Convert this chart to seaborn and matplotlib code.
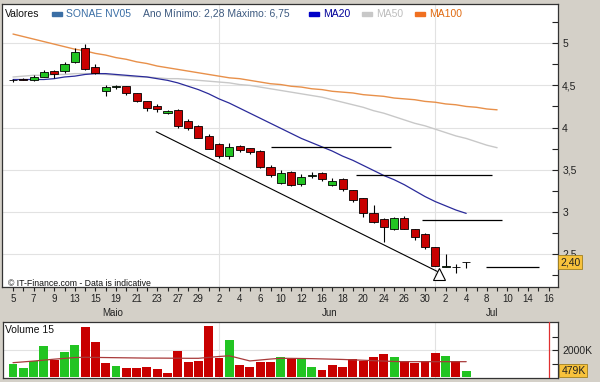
import numpy as np
import pandas as pd
import matplotlib
matplotlib.use("Agg")
import matplotlib.pyplot as plt
import matplotlib.transforms as mtransforms
from matplotlib.patches import Rectangle
import seaborn as sns

# ---------------- data ----------------
tick_labels = ["5", "7", "9", "13", "15", "19", "21", "23", "27", "29",
               "2", "4", "6", "10", "12", "16", "18", "20", "24", "26", "30",
               "2", "4", "8", "10", "14", "16"]
months = ["Maio", "Jun", "Jul"]
month_pos = [9.7, 30.7, 46.5]
month_start = [20, 41]

open_ = [4.56, 4.58, 4.56, 4.60, 4.67, 4.67, 4.78, 4.94, 4.72, 4.43, 4.48, 4.49,
         4.41, 4.31, 4.26, 4.17, 4.21, 4.08, 4.02, 3.90, 3.80, 3.66, 3.78, 3.76,
         3.72, 3.53, 3.34, 3.47, 3.33, 3.42, 3.46, 3.32, 3.39, 3.26, 3.16, 2.98,
         2.91, 2.79, 2.93, 2.79, 2.74, 2.58, 2.34, 2.34, 2.40]
close = [4.56, 4.57, 4.60, 4.66, 4.64, 4.75, 4.90, 4.69, 4.65, 4.48, 4.49, 4.41,
         4.32, 4.23, 4.22, 4.20, 4.02, 3.99, 3.88, 3.75, 3.66, 3.77, 3.73, 3.71,
         3.53, 3.43, 3.46, 3.32, 3.41, 3.44, 3.39, 3.37, 3.27, 3.14, 2.98, 2.88,
         2.82, 2.93, 2.79, 2.70, 2.58, 2.36, 2.36, 2.34, 2.40]
high = [4.58, 4.59, 4.62, 4.68, 4.68, 4.78, 4.94, 4.99, 4.76, 4.50, 4.51, 4.49,
        4.41, 4.31, 4.28, 4.21, 4.22, 4.10, 4.03, 3.92, 3.81, 3.82, 3.79, 3.76,
        3.73, 3.55, 3.49, 3.48, 3.45, 3.47, 3.47, 3.40, 3.40, 3.26, 3.16, 3.08,
        2.93, 2.94, 2.95, 2.79, 2.75, 2.58, 2.50, 2.38, 2.40]
low = [4.54, 4.56, 4.55, 4.60, 4.59, 4.65, 4.77, 4.68, 4.63, 4.37, 4.46, 4.39,
       4.30, 4.20, 4.18, 4.16, 4.00, 3.97, 3.87, 3.74, 3.64, 3.63, 3.71, 3.69,
       3.52, 3.41, 3.33, 3.31, 3.30, 3.40, 3.36, 3.31, 3.25, 3.12, 2.94, 2.86,
       2.64, 2.78, 2.79, 2.66, 2.56, 2.35, 2.34, 2.27, 2.33]

ma20 = [4.57, 4.57, 4.57, 4.57, 4.58, 4.60, 4.61, 4.63, 4.64, 4.64, 4.63, 4.62,
        4.61, 4.60, 4.58, 4.56, 4.53, 4.49, 4.45, 4.40, 4.34, 4.29, 4.23, 4.17,
        4.11, 4.05, 3.99, 3.93, 3.87, 3.82, 3.77, 3.72, 3.66, 3.61, 3.55, 3.49,
        3.43, 3.38, 3.32, 3.25, 3.18, 3.12, 3.07, 3.02, 2.98]
ma50 = [4.60, 4.61, 4.62, 4.62, 4.63, 4.63, 4.64, 4.64, 4.64, 4.63, 4.62, 4.61,
        4.60, 4.60, 4.59, 4.58, 4.58, 4.57, 4.56, 4.55, 4.54, 4.53, 4.51, 4.50,
        4.48, 4.46, 4.44, 4.42, 4.40, 4.38, 4.36, 4.33, 4.30, 4.27, 4.24, 4.20,
        4.17, 4.13, 4.09, 4.05, 4.02, 3.98, 3.94, 3.90, 3.87, 3.83, 3.79, 3.76]
ma100 = [5.11, 5.08, 5.05, 5.02, 4.99, 4.96, 4.93, 4.91, 4.88, 4.86, 4.83, 4.81,
         4.78, 4.76, 4.73, 4.71, 4.69, 4.67, 4.65, 4.63, 4.61, 4.59, 4.58, 4.56,
         4.54, 4.52, 4.51, 4.49, 4.48, 4.46, 4.45, 4.43, 4.42, 4.41, 4.39, 4.38,
         4.37, 4.35, 4.34, 4.33, 4.31, 4.30, 4.28, 4.27, 4.25, 4.24, 4.22, 4.21]

volume_k = [963, 689, 1207, 2319, 1259, 1874, 2370, 3726, 2615, 1059, 837, 644,
            644, 719, 570, 319, 1948, 1133, 1185, 3778, 1385, 2741, 889, 763,
            1133, 1133, 1459, 1311, 1385, 763, 519, 889, 763, 1333, 1185, 1504,
            1704, 1459, 1185, 1015, 1185, 1800, 1578, 1185, 479]
vol_ma15_k = [1060, 1120, 1180, 1250, 1320, 1380, 1440, 1460, 1450, 1440, 1430, 1420,
              1410, 1400, 1400, 1395, 1390, 1385, 1385, 1450, 1520, 1570, 1380, 1190,
              1260, 1330, 1385, 1380, 1370, 1360, 1340, 1320, 1300, 1270, 1240, 1210,
              1180, 1150, 1135, 1135, 1135, 1135, 1135, 1135, 1135]

# drawn analysis objects
level_start = [25.0, 33.3, 39.7, 45.9]
level_end = [36.7, 46.5, 47.5, 51.1]
level_price = [3.77, 3.44, 2.90, 2.34]
trend_x = [13.9, 41.2]
trend_y = [3.95, 2.29]
marker_x = [41.4]
marker_y = [2.26]
last_price = 2.40
last_volume_k = 479
today_idx = 52

# ---------------- style ----------------
BG = "#d4d0c8"
GREEN = "#22c422"
RED = "#c80000"
sns.set_style("white")
plt.rcParams["font.family"] = ["Liberation Sans", "DejaVu Sans"]

W, H = 600, 382
fig = plt.figure(figsize=(6, 3.82), dpi=100, facecolor=BG)


def ax_rect(l, t, r, b):
    return [l / W, 1 - b / H, (r - l) / W, (b - t) / H]


X0, DX = 13.0, 10.3      # pixel of first candle, pixels per trading day
ax = fig.add_axes(ax_rect(2, 4, 558, 287))
axv = fig.add_axes(ax_rect(3, 322, 558, 378))

n = len(close)
idx = np.arange(n)
df = pd.DataFrame({"i": idx, "open": open_, "close": close, "high": high,
                   "low": low, "vol": volume_k, "volma": vol_ma15_k})

# ---------------- main price panel ----------------
ax.set_facecolor("white")
for y in np.arange(2.5, 5.01, 0.5):
    ax.axhline(y, color="#e2e2e2", lw=0.8, zorder=0)
for m in month_start:
    ax.axvline(m, color="#e2e2e2", lw=0.8, zorder=0)

sns.lineplot(x=np.arange(len(ma100)), y=ma100, ax=ax, color="#e8904a", lw=1.0, zorder=2)
sns.lineplot(x=np.arange(len(ma50)), y=ma50, ax=ax, color="#c8c8c8", lw=1.0, zorder=2)
sns.lineplot(x=np.arange(len(ma20)), y=ma20, ax=ax, color="#2a2a9a", lw=0.9, zorder=2)

# candles
up = df["close"] >= df["open"]
ax.vlines(df["i"], df["low"], df["high"], color="black", lw=0.8, zorder=3)
body_bot = np.minimum(df["open"], df["close"])
body_h = np.maximum(np.abs(df["close"] - df["open"]), 0.004)
ax.bar(df["i"], body_h, bottom=body_bot, width=0.78,
       color=np.where(up, GREEN, RED), edgecolor="black", lw=0.6, zorder=4)

# analysis lines
ax.hlines(level_price, level_start, level_end, color="black", lw=0.9, zorder=3)
ax.plot(trend_x, trend_y, color="black", lw=0.8, zorder=3)
ax.plot(marker_x, marker_y, marker="^", ms=8, mfc="white", mec="black",
        mew=0.8, ls="none", zorder=5)

ax.set_xlim((2 - X0) / DX, (558 - X0) / DX)
P0, PY = 43.3, 84.2     # pixel of price 5.0, pixels per unit
ax.set_ylim(5 - (287 - P0) / PY, 5 + (P0 - 4) / PY)

ax.yaxis.tick_right()
ax.set_yticks(np.arange(2.5, 5.01, 0.5))
ax.set_yticklabels(["2,5", "3", "3,5", "4", "4,5", "5"])
ax.set_yticks(np.arange(2.25, 5.3, 0.25), minor=True)
ax.tick_params(axis="y", which="both", direction="in", length=4, width=0.8,
               right=True, left=False, labelsize=7.5, pad=3, colors="#222222")
ax.set_xticks(np.arange(0, 53, 2))
ax.set_xticklabels(tick_labels)
ax.set_xticks(np.arange(1, 53, 2), minor=True)
ax.tick_params(axis="x", which="both", direction="out", length=3, width=0.8,
               bottom=True, labelsize=7, pad=2, colors="#222222")
ax.set_xlabel("")
ax.set_ylabel("")
for s in ax.spines.values():
    s.set_color("#333333")
    s.set_linewidth(0.9)

blend = mtransforms.blended_transform_factory(ax.transData, ax.transAxes)
for name, pos in zip(months, month_pos):
    ax.text(pos, -26 / 283, name, transform=blend, ha="center", va="center",
            fontsize=7, color="#222222")

rblend = mtransforms.blended_transform_factory(ax.transAxes, ax.transData)
ax.text(1.004, last_price, "2,40", transform=rblend, ha="left", va="center",
        fontsize=7.5, color="#222222", zorder=10,
        bbox=dict(boxstyle="square,pad=0.18", fc="#f7c23c", ec="#a08020", lw=0.6))

fig.text(8 / W, 1 - 283 / H, "\u00a9 IT-Finance.com - Data is indicative",
         fontsize=6.3, va="center", ha="left", color="#111111")

# legend strip
ly = 1 - 14 / H
fig.text(5 / W, ly, "Valores", fontsize=7.5, va="center", color="#111111")
legend_items = [(52, "SONAE NV05", "#3a6ea5", "#3a6ea5"),
                (309, "MA20", "#0000c8", "#000099"),
                (362, "MA50", "#c8c8c8", "#bdbdbd"),
                (415, "MA100", "#f07020", "#e06a10")]
for px, label, mcol, tcol in legend_items:
    fig.patches.append(Rectangle((px / W, 1 - 15.5 / H), 10 / W, 3.5 / H,
                                 transform=fig.transFigure, color=mcol))
    fig.text((px + 14) / W, ly, label, fontsize=7.5, va="center", color=tcol)
fig.text(143 / W, ly, "Ano M\u00ednimo: 2,28 M\u00e1ximo: 6,75", fontsize=7.5,
         va="center", color="#3d5a80")

# ---------------- volume panel ----------------
axv.set_facecolor("white")
axv.axhline(2000, color="#e2e2e2", lw=0.8, zorder=0)
for m in month_start:
    axv.axvline(m, color="#e2e2e2", lw=0.8, zorder=0)
vol_up = np.r_[True, np.diff(df["close"].values) >= 0]
axv.bar(df["i"], df["vol"], width=0.86, color=np.where(vol_up, GREEN, RED),
        lw=0, zorder=2)
sns.lineplot(data=df, x="i", y="volma", ax=axv, color="#a83a3a", lw=0.9, zorder=3)
axv.axvline(today_idx, color="#e03030", lw=0.9, zorder=3)

axv.set_xlim((3 - X0) / DX, (558 - X0) / DX)
VZ, VK = 377.0, 13.5   # pixel of zero volume, pixels per 1000K
axv.set_ylim(-(378 - VZ) / VK * 1000, (VZ - 322) / VK * 1000)
axv.yaxis.tick_right()
axv.set_yticks([1000, 2000, 3000])
axv.set_yticklabels(["", "2000K", ""])
axv.tick_params(axis="y", which="both", direction="in", length=4, width=0.8,
                right=True, left=False, labelsize=7.5, pad=3, colors="#222222")
axv.set_xticks([])
axv.set_xlabel("")
axv.set_ylabel("")
for s in axv.spines.values():
    s.set_color("#333333")
    s.set_linewidth(0.9)
vblend = mtransforms.blended_transform_factory(axv.transAxes, axv.transData)
axv.text(1.006, last_volume_k, "479K", transform=vblend, ha="left", va="center",
         fontsize=7.5, color="#222222", zorder=10,
         bbox=dict(boxstyle="square,pad=0.18", fc="#f7c23c", ec="#a08020", lw=0.6))
fig.text(5 / W, 1 - 330 / H, "Volume 15", fontsize=7.5, va="center", color="#111111")

fig.savefig("out.png", dpi=100, facecolor=BG)
